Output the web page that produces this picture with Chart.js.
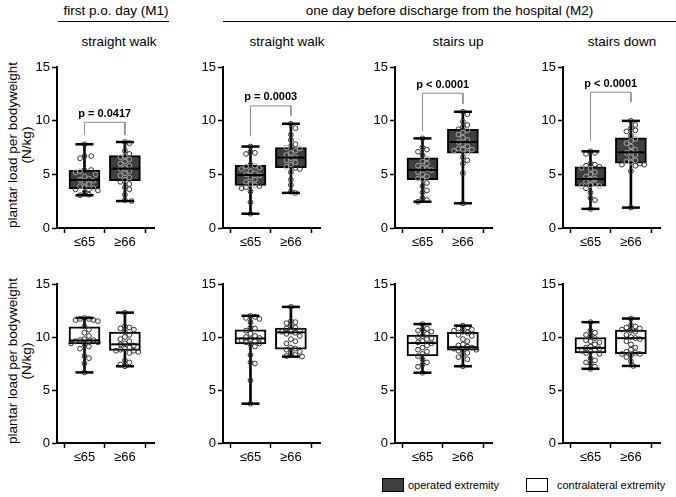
<!DOCTYPE html>
<html><head><meta charset="utf-8">
<script src="https://cdn.jsdelivr.net/npm/chart.js@4.4.0/dist/chart.umd.min.js"></script>
<style>
body{margin:0;width:676px;height:497px;overflow:hidden;background:#fff;font-family:'Liberation Sans',Arial,sans-serif;position:relative;color:#000}
canvas{position:absolute}
.t{position:absolute;white-space:nowrap;text-align:center}
.yt{position:absolute;width:200px;height:30px;transform:rotate(-90deg);text-align:center;font-size:13.5px;line-height:14px;white-space:nowrap}
.hl{position:absolute;height:0;border-top:1.5px solid #000}
.sw{position:absolute;width:20px;height:12px;border:1.5px solid #000}
.lg{position:absolute;font-size:11px;line-height:14px;white-space:nowrap}
</style></head><body>
<script>
// ---------- data ----------
const categories = ['≤65', '≥66'];
const yTickValues = [0, 5, 10, 15];
const panelTitles = ['straight walk', 'straight walk', 'stairs up', 'stairs down'];
const groupTitles = ['first p.o. day (M1)', 'one day before discharge from the hospital (M2)'];
const yAxisTitle = ['plantar load per bodyweight', '(N/kg)'];
const legendLabels = ['operated extremity', 'contralateral extremity'];
const pLabels = ['p = 0.0417', 'p = 0.0003', 'p < 0.0001', 'p < 0.0001'];
const bracketTop = [9.85, 11.38, 12.56, 12.65];
const bracketLeftEnd = [8.67, 8.58, 9.03, 8.13];
const bracketRightEnd = [8.67, 10.48, 11.56, 11.74];

// box stats: [min, q1, median, q3, max]
const boxOpLe65 = [[3.05,3.66,4.48,5.38,7.8],[1.33,3.96,4.93,5.84,7.59],[2.45,4.5,5.41,6.53,8.35],[1.78,3.9,4.57,5.69,7.14]];
const boxOpGe66 = [[2.51,4.41,5.53,6.74,8.01],[3.27,5.62,6.56,7.5,9.71],[2.3,6.98,8.01,9.19,10.83],[1.9,6.05,7.05,8.41,9.98]];
const boxCoLe65 = [[6.66,9.34,9.67,10.95,11.8],[3.71,9.34,9.86,10.68,12.0],[6.63,8.21,9.43,10.19,11.22],[7.0,8.49,8.97,9.95,11.4]];
const boxCoGe66 = [[7.24,8.73,9.31,10.47,12.3],[8.15,8.85,10.44,10.83,12.84],[7.24,8.76,9.04,10.44,11.07],[7.27,8.43,9.89,10.65,11.74]];

// individual values
const ptsOpLe65 = [
 [7.8,6.7,6.7,6.5,5.4,5.4,5.3,5.2,5.0,4.8,4.6,4.5,4.4,4.3,4.1,3.9,3.8,3.7,3.6,3.6,3.5,3.3,3.1,3.05],
 [7.59,7.1,7.0,6.9,5.9,5.8,5.7,5.6,5.5,5.3,5.1,5.0,4.9,4.7,4.5,4.3,4.1,4.0,3.9,3.8,3.7,3.4,2.4,1.33],
 [8.35,7.5,7.3,7.1,6.8,6.5,6.2,6.0,5.8,5.6,5.5,5.4,5.2,5.0,4.8,4.6,4.5,4.2,3.9,3.5,3.3,2.8,2.6,2.45],
 [7.14,7.0,6.9,6.0,5.9,5.8,5.7,5.6,5.5,5.2,5.0,4.8,4.6,4.5,4.3,4.1,4.0,3.9,3.9,3.7,3.3,2.8,2.6,1.78]];
const ptsOpGe66 = [
 [8.01,7.9,7.2,6.9,6.7,6.6,6.4,6.2,6.0,5.8,5.6,5.5,5.3,5.1,4.9,4.7,4.5,4.3,4.1,3.8,3.6,3.1,2.6,2.51],
 [9.71,9.3,8.7,8.2,7.8,7.6,7.5,7.4,7.2,7.0,6.8,6.6,6.5,6.3,6.1,5.9,5.7,5.6,5.5,5.2,4.5,4.0,3.4,3.27],
 [10.83,10.6,9.9,9.6,9.4,9.2,9.1,8.9,8.7,8.4,8.2,8.0,7.8,7.6,7.4,7.3,7.3,7.2,7.0,6.6,6.3,6.0,5.1,2.3],
 [9.98,9.6,9.3,9.1,9.0,8.6,8.3,8.1,7.9,7.6,7.3,7.1,7.0,6.8,6.6,6.3,6.2,6.1,6.0,5.9,5.9,5.8,5.3,1.9]];
const ptsCoLe65 = [
 [11.8,11.7,11.7,11.6,11.6,11.5,11.0,10.7,10.4,10.1,9.8,9.7,9.7,9.6,9.6,9.5,9.4,9.3,9.1,8.9,8.2,8.0,7.5,6.66],
 [12.0,11.9,11.8,11.7,11.4,10.9,10.8,10.6,10.3,10.1,10.0,9.9,9.8,9.7,9.6,9.5,9.4,9.3,9.1,8.3,7.6,7.5,5.9,3.71],
 [11.22,10.8,10.7,10.6,10.5,10.3,10.1,10.0,9.9,9.8,9.6,9.5,9.4,9.2,9.0,8.8,8.6,8.4,8.2,7.9,7.6,7.4,7.2,6.63],
 [11.4,10.6,10.4,10.2,10.1,9.9,9.7,9.6,9.5,9.3,9.1,9.0,8.9,8.8,8.7,8.6,8.5,8.4,8.0,7.8,7.6,7.5,7.2,7.0]];
const ptsCoGe66 = [
 [12.3,11.0,10.9,10.8,10.7,10.5,10.2,10.0,9.8,9.6,9.4,9.3,9.2,9.0,8.9,8.8,8.7,8.7,8.6,8.5,7.8,7.6,7.4,7.24],
 [12.84,11.5,11.4,11.3,11.0,10.9,10.8,10.6,10.5,10.5,10.4,10.3,10.1,9.8,9.6,9.4,9.0,8.9,8.8,8.6,8.5,8.3,8.2,8.15],
 [11.07,10.9,10.8,10.7,10.6,10.5,10.4,10.2,10.1,9.8,9.6,9.3,9.2,9.1,9.0,8.9,8.8,8.8,8.7,8.5,8.3,8.1,7.9,7.24],
 [11.74,11.1,11.0,10.9,10.8,10.7,10.6,10.5,10.2,10.0,9.9,9.8,9.6,9.3,9.0,8.8,8.6,8.5,8.4,8.4,8.3,8.1,7.7,7.27]];

// ---------- layout ----------
const FONT = "'Liberation Sans', Arial, sans-serif";
const panelLeft = [57, 223, 395, 563];
const plotW = 113;
const rowTop = [62, 279];
const rowH = [166, 164];
const X_MIN = -0.68, X_MAX = 1.72;
const AXW = 45, PADT = 12, XAH = 30;
const OP_FILL = '#3f3f3f';

function addDiv(cls, text, style) {
  const d = document.createElement('div');
  d.className = cls;
  if (text !== null) d.innerHTML = text;
  Object.assign(d.style, style);
  document.body.appendChild(d);
  return d;
}

// headers
addDiv('t', groupTitles[0], {left: '57px', width: '118px', top: '3px', fontSize: '13.5px'});
addDiv('hl', null, {left: '58px', width: '111px', top: '21px'});
addDiv('t', groupTitles[1], {left: '223px', width: '453px', top: '3px', fontSize: '13.5px'});
addDiv('hl', null, {left: '223px', width: '453px', top: '21px'});
const subCenters = [119, 287, 458, 622];
panelTitles.forEach((t, i) => addDiv('t', t, {left: (subCenters[i] - 60) + 'px', width: '120px', top: '34px', fontSize: '13.5px'}));
// y titles
[145, 361].forEach(cy => addDiv('yt', yAxisTitle.join('<br>'), {left: (21 - 100) + 'px', top: (cy - 15) + 'px'}));
// legend
addDiv('sw', null, {left: '382px', top: '478px', background: OP_FILL});
addDiv('lg', legendLabels[0], {left: '408px', top: '478px'});
addDiv('sw', null, {left: '526px', top: '478px', background: '#fff'});
addDiv('lg', legendLabels[1], {left: '557px', top: '478px'});

function swarm(values, center, pxX, pxY) {
  const placed = [];
  const out = [];
  const sorted = values.slice().sort((a, b) => b - a);
  const d = 5.3;
  for (const v of sorted) {
    const py = v * pxY;
    let off = 0;
    for (let k = 0; k < 40; k++) {
      const cand = k === 0 ? 0 : (k % 2 ? 1 : -1) * Math.ceil(k / 2) * 2.6;
      if (placed.every(p => Math.hypot(p.x - cand, p.y - py) >= d)) { off = cand; break; }
    }
    placed.push({x: off, y: py});
    out.push({x: center + off / pxX, y: v});
  }
  return out;
}

const pTextPlugin = {
  id: 'ptext',
  afterDatasetsDraw(chart, args, opts) {
    if (!opts.text) return;
    const ctx = chart.ctx;
    const xs = chart.scales.x, ys = chart.scales.y;
    ctx.save();
    ctx.font = 'bold 11px ' + FONT;
    ctx.fillStyle = '#000';
    ctx.textAlign = 'center';
    ctx.textBaseline = 'bottom';
    ctx.fillText(opts.text, xs.getPixelForValue(0.5), ys.getPixelForValue(opts.y) - 3);
    ctx.restore();
  }
};

function makePanel(row, idx) {
  const isOp = row === 0;
  const le = isOp ? boxOpLe65[idx] : boxCoLe65[idx];
  const ge = isOp ? boxOpGe66[idx] : boxCoGe66[idx];
  const pl = isOp ? ptsOpLe65[idx] : ptsCoLe65[idx];
  const pg = isOp ? ptsOpGe66[idx] : ptsCoGe66[idx];
  const pxX = plotW / (X_MAX - X_MIN), pxY = rowH[row] / 15;
  const cv = document.createElement('canvas');
  const W = AXW + plotW + 1, H = PADT + rowH[row] + XAH;
  cv.width = W; cv.height = H;
  cv.style.left = (panelLeft[idx] - AXW) + 'px';
  cv.style.top = (rowTop[row] - PADT) + 'px';
  document.body.appendChild(cv);
  const pts = swarm(pl, 0, pxX, pxY).concat(swarm(pg, 1, pxX, pxY));
  const inBox = (p) => { const b = p.x < 0.5 ? le : ge; return isOp && p.y >= b[1] && p.y <= b[3]; };
  const datasets = [
    {type: 'bar', grouped: false, data: [{x: 0, y: [le[0], le[4]]}, {x: 1, y: [ge[0], ge[4]]}],
      backgroundColor: '#000', borderWidth: 0, barThickness: 2, order: 10},
    {type: 'bar', grouped: false, data: [{x: 0, y: [le[1], le[3]]}, {x: 1, y: [ge[1], ge[3]]}],
      backgroundColor: isOp ? OP_FILL : '#fff', borderColor: '#000', borderWidth: 2, borderSkipped: false, barThickness: 31, order: 9},
    {type: 'scatter', data: pts, pointStyle: 'circle', pointRadius: 2.4, pointBorderWidth: 1,
      pointBackgroundColor: 'rgba(0,0,0,0)',
      pointBorderColor: (c) => inBox(c.raw) ? '#a9a9a9' : '#333', order: 3},
    {type: 'scatter', data: [{x: 0, y: le[2]}, {x: 1, y: ge[2]}], pointStyle: 'line', pointRadius: 15, pointBorderWidth: 2,
      pointBorderColor: '#000', order: 2},
    {type: 'scatter', data: [{x: 0, y: le[0]}, {x: 0, y: le[4]}, {x: 1, y: ge[0]}, {x: 1, y: ge[4]}], pointStyle: 'line',
      pointRadius: 9, pointBorderWidth: 2.5, pointBorderColor: '#000', order: 1}
  ];
  if (isOp) {
    datasets.push({type: 'line', data: [{x: 0, y: bracketLeftEnd[idx]}, {x: 0, y: bracketTop[idx]}, {x: 1, y: bracketTop[idx]}, {x: 1, y: bracketRightEnd[idx]}],
      borderColor: '#8c8c8c', borderWidth: 1, pointRadius: 0, fill: false, tension: 0, order: 0});
  }
  new Chart(cv, {
    type: 'scatter',
    data: {datasets},
    plugins: [pTextPlugin],
    options: {
      responsive: false, animation: false, events: [],
      layout: {padding: {top: PADT, left: 0, right: 1, bottom: 0}},
      plugins: {legend: {display: false}, tooltip: {enabled: false},
        ptext: isOp ? {text: pLabels[idx], y: bracketTop[idx]} : {}},
      scales: {
        x: {type: 'linear', min: X_MIN, max: X_MAX, offset: false,
          afterBuildTicks: s => { s.ticks = [{value: 0}, {value: 1}]; },
          afterFit: s => { s.height = XAH; },
          ticks: {callback: v => categories[v], color: '#000', font: {size: 13, family: FONT}, padding: 2, maxRotation: 0},
          grid: {drawOnChartArea: false, drawTicks: true, tickLength: 5, color: '#000', tickWidth: 1.5},
          border: {color: '#000', width: 2}},
        y: {type: 'linear', min: 0, max: 15,
          afterBuildTicks: s => { s.ticks = yTickValues.map(v => ({value: v})); },
          afterFit: s => { s.width = AXW; },
          ticks: {color: '#000', font: {size: 13, family: FONT}, padding: 2},
          grid: {drawOnChartArea: false, drawTicks: true, tickLength: 5, color: '#000', tickWidth: 1.5},
          border: {color: '#000', width: 2}}
      }
    }
  });
}
for (let r = 0; r < 2; r++) for (let i = 0; i < 4; i++) makePanel(r, i);
</script>
</body></html>
